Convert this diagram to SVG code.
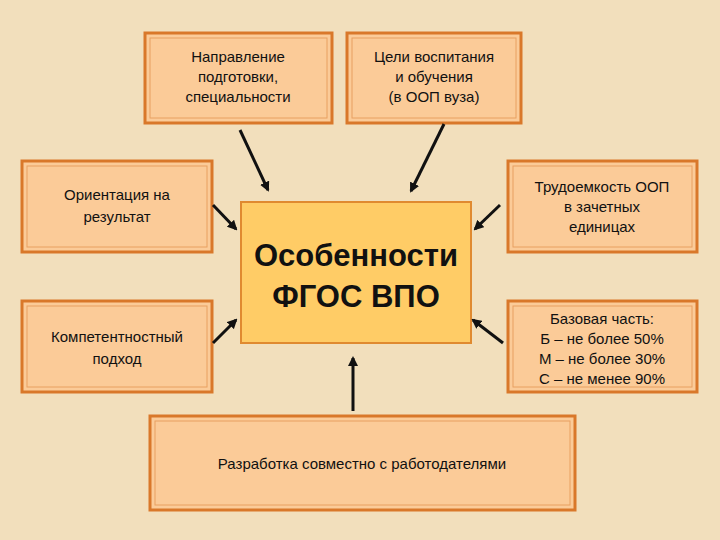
<svg xmlns="http://www.w3.org/2000/svg" width="720" height="540" viewBox="0 0 720 540">
<defs>
<marker id="ah" markerWidth="10" markerHeight="10" refX="8" refY="5" orient="auto" markerUnits="userSpaceOnUse" viewBox="0 0 10 10"><path d="M0,0 L10,5 L0,10 z" fill="#111"/></marker>
<style>
.box{fill:#FBCB98;stroke:#D9782A;stroke-width:3}
.inner{fill:none;stroke:#E8A060;stroke-width:1}
.t{font-family:"Liberation Sans",Arial,sans-serif;font-size:15px;fill:#111;text-anchor:middle}
.big{font-family:"Liberation Sans",Arial,sans-serif;font-size:31px;font-weight:bold;fill:#111;text-anchor:middle}
.c{stroke:#111;stroke-width:3;fill:none;marker-end:url(#ah)}
</style>
</defs>
<rect width="720" height="540" fill="#F2DFBC"/>
<g id="n1"><rect class="box" x="145" y="33" width="187" height="90"/><rect class="inner" x="150" y="38" width="177" height="80"/>
<text class="t" x="238" y="62">Направление</text><text class="t" x="238" y="82">подготовки,</text><text class="t" x="238" y="102">специальности</text></g>
<g id="n2"><rect class="box" x="347" y="33" width="174" height="90"/><rect class="inner" x="352" y="38" width="164" height="80"/>
<text class="t" x="434" y="62">Цели воспитания</text><text class="t" x="434" y="82">и обучения</text><text class="t" x="434" y="102">(в ООП вуза)</text></g>
<g id="n3"><rect class="box" x="22" y="161" width="190" height="91"/><rect class="inner" x="27" y="166" width="180" height="81"/>
<text class="t" x="117" y="200">Ориентация на</text><text class="t" x="117" y="222">результат</text></g>
<g id="n4"><rect class="box" x="508" y="161" width="189" height="91"/><rect class="inner" x="513" y="166" width="179" height="81"/>
<text class="t" x="602" y="192">Трудоемкость ООП</text><text class="t" x="602" y="212">в зачетных</text><text class="t" x="602" y="232">единицах</text></g>
<g id="n5"><rect class="box" x="22" y="301" width="190" height="91"/><rect class="inner" x="27" y="306" width="180" height="81"/>
<text class="t" x="117" y="342">Компетентностный</text><text class="t" x="117" y="364">подход</text></g>
<g id="n6"><rect class="box" x="508" y="301" width="189" height="91"/><rect class="inner" x="513" y="306" width="179" height="81"/>
<text class="t" x="602" y="324">Базовая часть:</text><text class="t" x="602" y="344">Б – не более 50%</text><text class="t" x="602" y="364">М – не более 30%</text><text class="t" x="602" y="384">С – не менее 90%</text></g>
<g id="n7"><rect class="box" x="150" y="416" width="425" height="94"/><rect class="inner" x="155" y="421" width="415" height="84"/>
<text class="t" x="362" y="469">Разработка совместно с работодателями</text></g>
<g id="center"><rect x="241" y="202" width="230" height="141" fill="#FFCC66" stroke="#E08A30" stroke-width="2"/>
<text class="big" x="356" y="266">Особенности</text><text class="big" x="356" y="307">ФГОС ВПО</text></g>
<g id="connectors">
<line class="c" x1="240" y1="130" x2="268" y2="190"/>
<line class="c" x1="444" y1="124" x2="411" y2="191"/>
<line class="c" x1="213" y1="205" x2="236" y2="229"/>
<line class="c" x1="500" y1="205" x2="475" y2="229"/>
<line class="c" x1="213" y1="343" x2="236" y2="320"/>
<line class="c" x1="503" y1="343" x2="473" y2="320"/>
<line class="c" x1="353" y1="411" x2="353" y2="358"/>
</g>
</svg>
